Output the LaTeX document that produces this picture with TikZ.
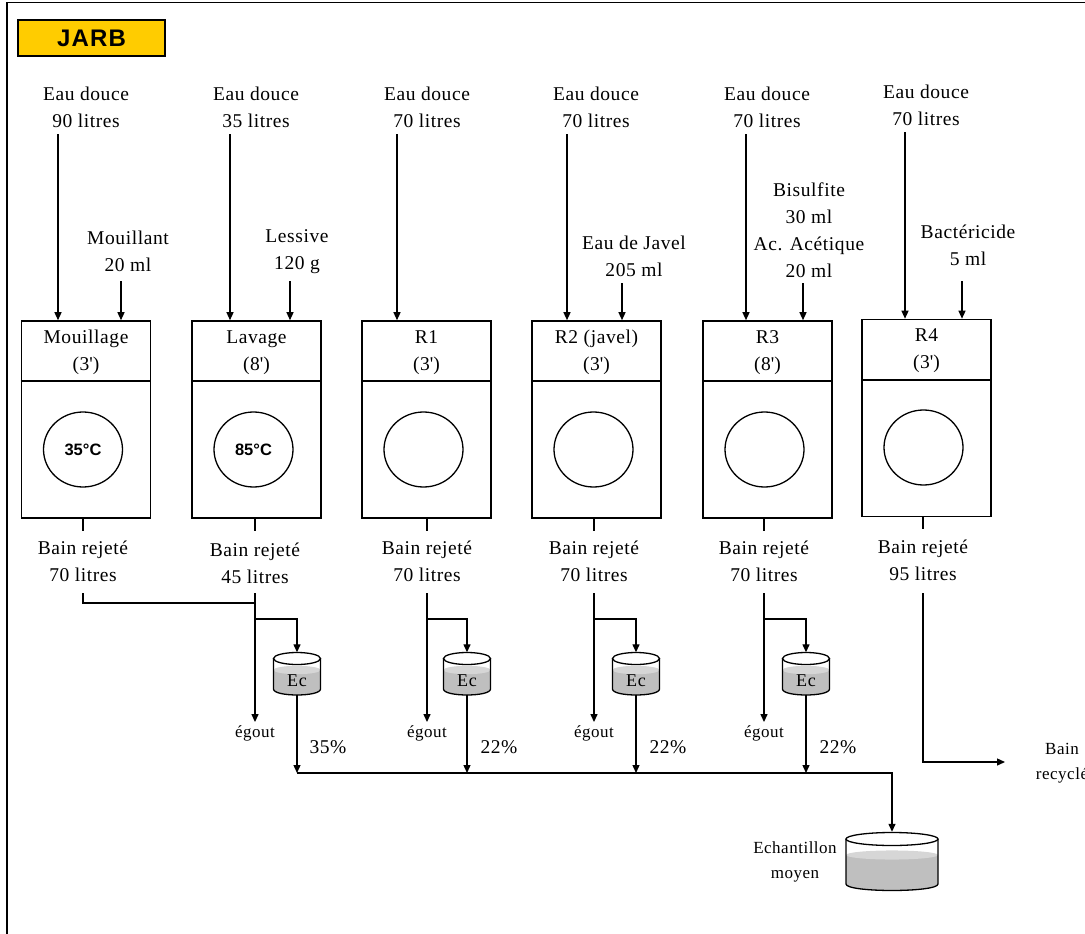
\documentclass[tikz,border=0pt]{standalone}
\usepackage{fontspec}
\setmainfont[LetterSpace=3]{Liberation Serif}
\newfontfamily\arialf{Liberation Sans}
\newfontfamily\arialsp[LetterSpace=5]{Liberation Sans}
\usetikzlibrary{arrows.meta,shapes.geometric}
\definecolor{jarb}{HTML}{FFCC00}
\definecolor{liq}{HTML}{BFBFBF}
\definecolor{surf}{HTML}{D6D6D6}
\newcommand\fmain{\fontsize{19.5}{27}\selectfont}
\newcommand\fsmall{\fontsize{17}{25}\selectfont}
\newcommand\fdrum{\arialf\bfseries\fontsize{16.5}{18}\selectfont}
\newcommand\fjarb{\arialsp\bfseries\fontsize{24}{26}\selectfont}
% #1 cx, #2 top ellipse y, #3 side bottom y, #4 rx, #5 ry, #6 liquid y
\newcommand\mycyl[6]{%
  \fill[liq] (#1-#4,#6) -- (#1-#4,#3) .. controls (#1-#4,#3+1.33*#5) and (#1+#4,#3+1.33*#5) .. (#1+#4,#3) -- (#1+#4,#6) -- cycle;
  \fill[surf] (#1,#6) ellipse[x radius=#4, y radius=#5*0.7];
  \draw[ln] (#1-#4,#2) -- (#1-#4,#3) .. controls (#1-#4,#3+1.33*#5) and (#1+#4,#3+1.33*#5) .. (#1+#4,#3) -- (#1+#4,#2);
  \draw[ln,fill=white] (#1,#2) ellipse[x radius=#4, y radius=#5];
}
\begin{document}
\begin{tikzpicture}[x=1pt,y=-1pt,
  box/.style={draw,line width=1.6pt,minimum width=129pt,minimum height=197pt,inner sep=0pt},
  lbl/.style={font=\fmain,align=center,inner sep=0pt},
  sml/.style={font=\fsmall,align=center,inner sep=0pt},
  drum/.style={draw,ellipse,line width=1.3pt,minimum width=79pt,minimum height=75pt,inner sep=0pt,font=\fdrum},
  ln/.style={line width=1.3pt},
  arr/.style={line width=1.3pt,-{Triangle[length=8pt,width=7pt]}},
  cylslot/.style={inner sep=0pt,minimum width=47pt,minimum height=42pt},
  ectxt/.style={inner sep=0pt,font=\fontsize{18}{20}\selectfont},
]
\useasboundingbox (0,0) rectangle (1085,934);
\clip (0,0) rectangle (1085,934);
\draw[line width=1.5pt] (7,2.5) rectangle (1100,950);

% title
\node[draw,fill=jarb,line width=1.5pt,minimum width=147pt,minimum height=36pt,inner sep=0pt,font=\fjarb] (jarb) at (91.5,38) {JARB};

% machines
\node[box] (m1) at (86,419.5) {};
\node[box] (m2) at (256.5,419.5) {};
\node[box] (m3) at (426.5,419.5) {};
\node[box] (m4) at (596.5,419.5) {};
\node[box] (m5) at (767.5,419.5) {};
\node[box] (m6) at (926.5,418) {};
\foreach \i in {1,...,6}
  \draw[line width=1.6pt] ([yshift=-61pt]m\i.north west) -- ([yshift=-61pt]m\i.north east);

\node[lbl] (h1) at (86,352.5) {Mouillage\\(3\textquotesingle)};
\node[lbl] (h2) at (256.5,352.5) {Lavage\\(8\textquotesingle)};
\node[lbl] (h3) at (426.5,352.5) {R1\\(3\textquotesingle)};
\node[lbl] (h4) at (596.5,352.5) {R2 (javel)\\(3\textquotesingle)};
\node[lbl] (h5) at (767.5,352.5) {R3\\(8\textquotesingle)};
\node[lbl] (h6) at (926.5,351) {R4\\(3\textquotesingle)};

\node[drum] (d1) at (83,449.5) {35°C};
\node[drum] (d2) at (253.5,449.5) {85°C};
\node[drum] (d3) at (423.5,449.5) {};
\node[drum] (d4) at (593.5,449.5) {};
\node[drum] (d5) at (764.5,449.5) {};
\node[drum] (d6) at (923.5,447.5) {};

% fresh water inputs
\node[lbl] (e1) at (86,107) {Eau douce\\90 litres};
\node[lbl] (e2) at (256,107) {Eau douce\\35 litres};
\node[lbl] (e3) at (427,107) {Eau douce\\70 litres};
\node[lbl] (e4) at (596,107) {Eau douce\\70 litres};
\node[lbl] (e5) at (767,107) {Eau douce\\70 litres};
\node[lbl] (e6) at (926,105) {Eau douce\\70 litres};
\coordinate (s1) at (58,134);
\coordinate (s2) at (230,134);
\coordinate (s3) at (397,134);
\coordinate (s4) at (567,134);
\coordinate (s5) at (746,134);
\coordinate (s6) at (905,132);
\foreach \i in {1,...,6}
  \draw[arr] (s\i) -- (s\i |- m\i.north);

% additives
\node[lbl] (a1) at (128,251.5) {Mouillant\\20 ml};
\node[lbl] (a2) at (297,251.5) {Lessive\\120 g};
\node[lbl] (a4) at (634,256.5) {Eau de Javel\\205 ml};
\node[lbl] (a5) at (809,230) {Bisulfite\\30 ml\\Ac. Acétique\\20 ml};
\node[lbl] (a6) at (968,245) {Bactéricide\\5 ml};
\coordinate (t1) at (121,281);
\coordinate (t2) at (290,281);
\coordinate (t4) at (622,283);
\coordinate (t5) at (803,283);
\coordinate (t6) at (962,281);
\foreach \i in {1,2,4,5,6}
  \draw[arr] (t\i) -- (t\i |- m\i.north);

% discharged baths
\node[lbl] (b1) at (83,561.5) {Bain rejeté\\70 litres};
\node[lbl] (b2) at (255,563.5) {Bain rejeté\\45 litres};
\node[lbl] (b3) at (427,561.5) {Bain rejeté\\70 litres};
\node[lbl] (b4) at (594,561.5) {Bain rejeté\\70 litres};
\node[lbl] (b5) at (764,561.5) {Bain rejeté\\70 litres};
\node[lbl] (b6) at (923,560) {Bain rejeté\\95 litres};
\foreach \i in {1,...,6}
  \draw[ln] (m\i.south -| b\i) -- ++(0,12);

\coordinate (o1) at (83,593);
\coordinate (j1) at (83,603);
\coordinate (o2) at (255,593);
\coordinate (o3) at (427,593);
\coordinate (o4) at (594,593);
\coordinate (o5) at (764,593);
\coordinate (o6) at (923,593);
\draw[ln] (o1) -- (j1) -- (j1 -| o2);

\coordinate (k2) at (255,619);
\coordinate (k3) at (427,619);
\coordinate (k4) at (594,619);
\coordinate (k5) at (764,619);
\node[sml] (g2) at (255,733) {égout};
\node[sml] (g3) at (427,733) {égout};
\node[sml] (g4) at (594,733) {égout};
\node[sml] (g5) at (764,733) {égout};

% samplers
\mycyl{297}{658.5}{689}{23.5}{6}{670}
\mycyl{467}{658.5}{689}{23.5}{6}{670}
\mycyl{636}{658.5}{689}{23.5}{6}{670}
\mycyl{806}{658.5}{689}{23.5}{6}{670}
\node[cylslot] (ec2) at (297,673.5) {};
\node[cylslot] (ec3) at (467,673.5) {};
\node[cylslot] (ec4) at (636,673.5) {};
\node[cylslot] (ec5) at (806,673.5) {};
\node[ectxt] (ect2) at (297,681) {Ec};
\node[ectxt] (ect3) at (467,681) {Ec};
\node[ectxt] (ect4) at (636,681) {Ec};
\node[ectxt] (ect5) at (806,681) {Ec};

\coordinate (c2) at (297,773);
\coordinate (c3) at (467,773);
\coordinate (c4) at (636,773);
\coordinate (c5) at (806,773);
\foreach \i in {2,...,5}{
  \draw[arr] (o\i) -- ([yshift=3pt]g\i.north);
  \draw[arr] (k\i) -| (ec\i.north);
  \draw[arr] (ec\i.south) -- (c\i);
}
\node[lbl] (p2) at (328,747) {35\%};
\node[lbl] (p3) at (499,747) {22\%};
\node[lbl] (p4) at (668,747) {22\%};
\node[lbl] (p5) at (838,747) {22\%};

% average sample
\mycyl{892}{839}{884}{46}{6.5}{855}
\node[inner sep=0pt,minimum width=92pt,minimum height=61pt] (big) at (892,862.5) {};
\node[sml] (ech) at (795,861.5) {Echantillon\\moyen};
\draw[arr] (c2) -| (big.north);

% recycled bath
\coordinate (rc) at (1005,762);
\draw[arr] (o6) |- (rc);
\node[sml] (rec) at (1062,763.5) {Bain\\recyclé};
\end{tikzpicture}
\end{document}
